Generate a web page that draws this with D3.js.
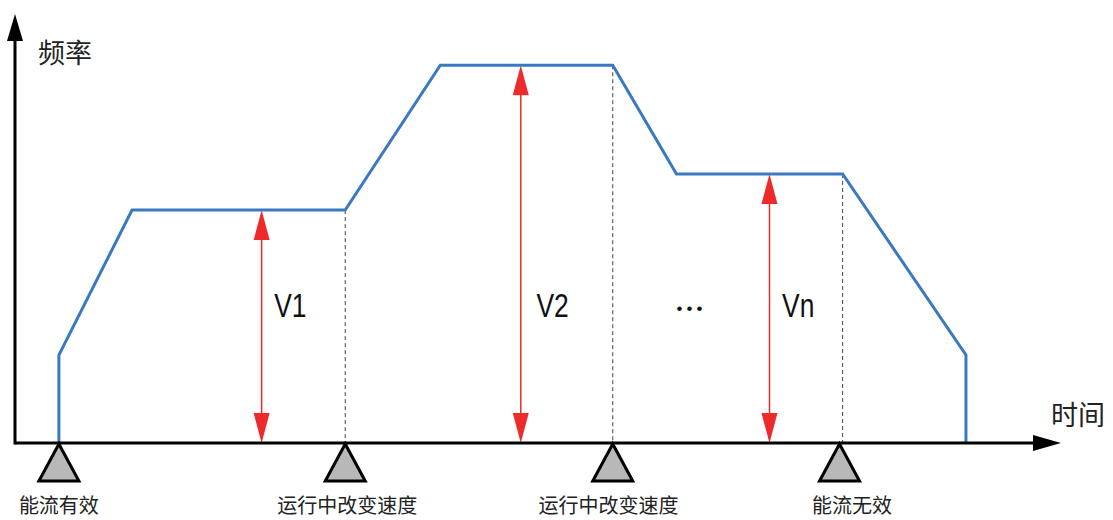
<!DOCTYPE html>
<html>
<head>
<meta charset="utf-8">
<script src="https://cdn.jsdelivr.net/npm/d3@7"></script>
<style>
  body { margin: 0; background: #fff; }
  svg { display: block; }
</style>
</head>
<body>
<svg id="chart" width="1113" height="520"></svg>
<script>
// time points of the profile (arbitrary units) and frequency at each point
var profileTime = [4.2, 4.2, 11.2, 31.6, 40.7, 57.2, 63.3, 79.2, 91.0, 91.0];
var profileFreq = [0, 20.7, 54.8, 54.8, 88.9, 88.9, 63.3, 63.3, 20.7, 0];

// event markers on the time axis
var eventTime = [4.2, 31.6, 57.2, 78.9];
var eventLabels = ["能流有效", "运行中改变速度", "运行中改变速度", "能流无效"];
var eventLabelTime = [4.2, 31.8, 56.8, 80.1];

// speed arrows
var speedTime = [23.6, 48.4, 72.2];
var speedFreq = [54.8, 88.9, 63.3];
var speedLabels = ["V1", "V2", "Vn"];
var speedLabelTime = [24.8, 49.9, 73.4];

// dashed guides at speed changes
var guideTime = [31.6, 57.2, 79.2];
var guideFreq = [54.8, 88.9, 63.3];

var svg = d3.select("#chart");

var xScale = d3.scaleLinear().domain([0, 100]).range([15, 1060]);
var yScale = d3.scaleLinear().domain([0, 100]).range([443, 18]);

var cjk = "'Noto Sans CJK SC', 'Noto Sans', sans-serif";
var latin = "'Liberation Sans', Arial, sans-serif";

// dashed guides
svg.selectAll(".guide")
    .data(guideTime)
    .enter().append("line")
    .attr("class", "guide")
    .attr("x1", function(d) { return xScale(d); })
    .attr("x2", function(d) { return xScale(d); })
    .attr("y1", function(d, i) { return yScale(guideFreq[i]); })
    .attr("y2", yScale(0))
    .attr("stroke", "#444")
    .attr("stroke-width", 1)
    .attr("stroke-dasharray", "4,3");

// red speed arrows (heads on both ends)
svg.selectAll(".speed")
    .data(speedTime)
    .enter().append("line")
    .attr("class", "speed")
    .attr("x1", function(d) { return xScale(d); })
    .attr("x2", function(d) { return xScale(d); })
    .attr("y1", function(d, i) { return yScale(speedFreq[i]) + 28; })
    .attr("y2", yScale(0) - 28)
    .attr("stroke", "#ee2b2b")
    .attr("stroke-width", 1.5);

svg.selectAll(".headTop")
    .data(speedTime)
    .enter().append("path")
    .attr("d", function(d, i) {
      var x = xScale(d), y = yScale(speedFreq[i]);
      return "M" + x + "," + y + " L" + (x - 8) + "," + (y + 30) + " L" + (x + 8) + "," + (y + 30) + " Z";
    })
    .attr("fill", "#ee2b2b");

svg.selectAll(".headBottom")
    .data(speedTime)
    .enter().append("path")
    .attr("d", function(d) {
      var x = xScale(d), y = yScale(0);
      return "M" + x + "," + y + " L" + (x - 8) + "," + (y - 30) + " L" + (x + 8) + "," + (y - 30) + " Z";
    })
    .attr("fill", "#ee2b2b");

// narrow, tall labels like the reference
svg.selectAll(".speedLabel")
    .data(speedLabels)
    .enter().append("text")
    .attr("transform", function(d, i) { return "translate(" + xScale(speedLabelTime[i]) + ",317) scale(0.8,1)"; })
    .attr("font-family", latin)
    .attr("font-size", 33)
    .attr("fill", "#111")
    .text(function(d) { return d; });

// mid-height ellipsis
svg.append("text")
    .attr("x", xScale(63.3))
    .attr("y", 314)
    .attr("font-family", latin)
    .attr("font-size", 17)
    .attr("letter-spacing", 4)
    .attr("fill", "#111")
    .text("•••");

// frequency profile
var line = d3.line()
    .x(function(d) { return xScale(d[0]); })
    .y(function(d) { return yScale(d[1]); });

svg.append("path")
    .datum(d3.zip(profileTime, profileFreq))
    .attr("d", line)
    .attr("fill", "none")
    .attr("stroke", "#3a78c2")
    .attr("stroke-width", 3)
    .attr("stroke-linejoin", "miter");

// axes with arrowheads
svg.append("line")
    .attr("x1", xScale(0)).attr("x2", xScale(0))
    .attr("y1", yScale(0) + 1.5).attr("y2", 38)
    .attr("stroke", "#000").attr("stroke-width", 3);
svg.append("path")
    .attr("d", "M" + xScale(0) + ",14 L" + (xScale(0) - 8) + ",41 L" + (xScale(0) + 8) + ",41 Z")
    .attr("fill", "#000");

svg.append("line")
    .attr("x1", xScale(0)).attr("x2", 1036)
    .attr("y1", yScale(0)).attr("y2", yScale(0))
    .attr("stroke", "#000").attr("stroke-width", 3);
svg.append("path")
    .attr("d", "M1061," + yScale(0) + " L1033," + (yScale(0) - 8) + " L1033," + (yScale(0) + 8) + " Z")
    .attr("fill", "#000");

svg.append("text")
    .attr("x", 38).attr("y", 63)
    .attr("font-family", cjk)
    .attr("font-size", 27)
    .attr("fill", "#222")
    .text("频率");

svg.append("text")
    .attr("x", 1051).attr("y", 425)
    .attr("font-family", cjk)
    .attr("font-size", 27)
    .attr("fill", "#222")
    .text("时间");

// event triangles
svg.selectAll(".event")
    .data(eventTime)
    .enter().append("path")
    .attr("d", function(d) {
      var x = xScale(d), y = yScale(0) + 1;
      return "M" + x + "," + y + " L" + (x - 20) + "," + (y + 37) + " L" + (x + 20) + "," + (y + 37) + " Z";
    })
    .attr("fill", "#b8b8b8")
    .attr("stroke", "#000")
    .attr("stroke-width", 3)
    .attr("stroke-linejoin", "miter");

svg.selectAll(".eventLabel")
    .data(eventLabels)
    .enter().append("text")
    .attr("x", function(d, i) { return xScale(eventLabelTime[i]); })
    .attr("y", 513)
    .attr("text-anchor", "middle")
    .attr("font-family", cjk)
    .attr("font-size", 20)
    .attr("fill", "#222")
    .text(function(d) { return d; });
</script>
</body>
</html>
